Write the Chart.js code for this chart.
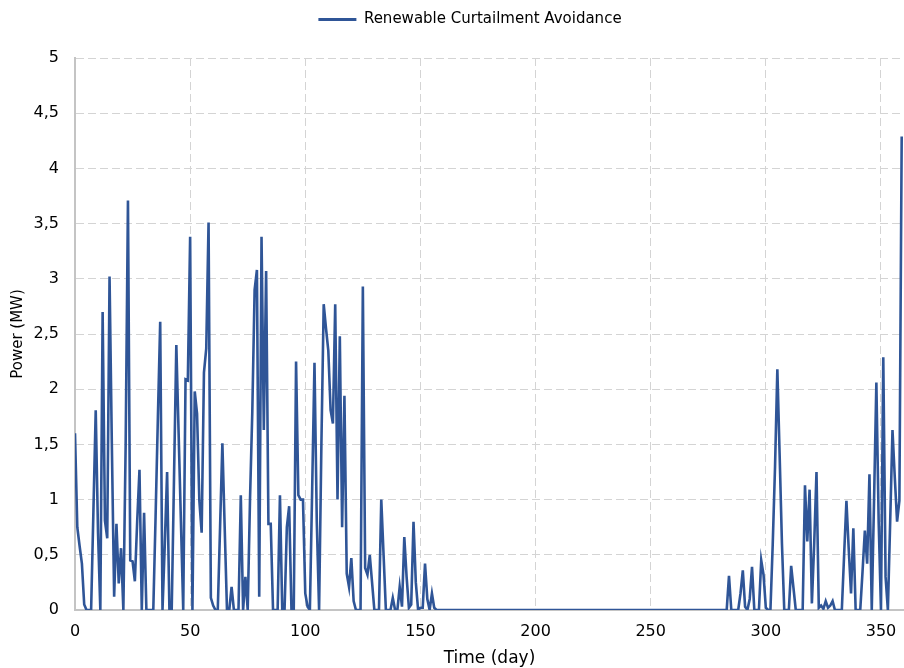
<!DOCTYPE html>
<html>
<head>
<meta charset="utf-8">
<title>Renewable Curtailment Avoidance</title>
<script src="https://cdn.jsdelivr.net/npm/chart.js@4.4.1/dist/chart.umd.min.js"></script>
<style>
  html, body { margin: 0; padding: 0; background: #fff; }
  #wrap { width: 904px; height: 668px; }
</style>
</head>
<body>
<div id="wrap"><canvas id="curtailment-chart" width="904" height="668"></canvas></div>
<script>
// daily avoided curtailment, day 0 .. 359 (MW)
const seriesLabel = 'Renewable Curtailment Avoidance';
const power = [
  1.60, 0.75, 0.58, 0.42, 0.05, 0, 0, 0, 0.90, 1.81, 0.70, 0, 2.70, 0.81, 0.65, 3.02, 1.50, 0.12, 0.78, 0.24,
  0.56, 0, 1.50, 3.71, 0.45, 0.44, 0.26, 0.80, 1.27, 0, 0.88, 0, 0, 0, 0, 0.85, 1.75, 2.61, 0, 0.60,
  1.25, 0, 0, 1.20, 2.40, 1.60, 0.80, 0, 2.09, 2.08, 3.38, 0, 1.98, 1.78, 0.99, 0.70, 2.15, 2.37, 3.51, 0.11,
  0.04, 0, 0, 0.75, 1.51, 0.75, 0, 0, 0.21, 0, 0, 0, 1.04, 0, 0.30, 0, 1.00, 1.80, 2.90, 3.08,
  0.12, 3.38, 1.63, 3.07, 0.78, 0.78, 0, 0, 0, 1.04, 0, 0, 0.75, 0.94, 0, 0, 2.25, 1.04, 1.00, 1.00,
  0.15, 0.03, 0, 1.10, 2.24, 0.80, 0, 1.50, 2.77, 2.55, 2.35, 1.81, 1.69, 2.77, 1.00, 2.48, 0.75, 1.94, 0.33, 0.21,
  0.47, 0.08, 0, 0, 0, 2.93, 0.38, 0.32, 0.50, 0.25, 0, 0, 0, 1.00, 0.50, 0, 0, 0, 0.11, 0,
  0, 0.21, 0.03, 0.66, 0.30, 0.02, 0.05, 0.80, 0.25, 0, 0.02, 0.02, 0.42, 0.10, 0, 0.15, 0.02, 0, 0, 0,
  0, 0, 0, 0, 0, 0, 0, 0, 0, 0, 0, 0, 0, 0, 0, 0, 0, 0, 0, 0,
  0, 0, 0, 0, 0, 0, 0, 0, 0, 0, 0, 0, 0, 0, 0, 0, 0, 0, 0, 0,
  0, 0, 0, 0, 0, 0, 0, 0, 0, 0, 0, 0, 0, 0, 0, 0, 0, 0, 0, 0,
  0, 0, 0, 0, 0, 0, 0, 0, 0, 0, 0, 0, 0, 0, 0, 0, 0, 0, 0, 0,
  0, 0, 0, 0, 0, 0, 0, 0, 0, 0, 0, 0, 0, 0, 0, 0, 0, 0, 0, 0,
  0, 0, 0, 0, 0, 0, 0, 0, 0, 0, 0, 0, 0, 0, 0, 0, 0, 0, 0, 0,
  0, 0, 0, 0, 0.31, 0, 0, 0, 0, 0.15, 0.36, 0.03, 0, 0.10, 0.39, 0, 0, 0, 0.45, 0.32,
  0.02, 0, 0, 0.60, 1.30, 2.18, 1.40, 0.60, 0, 0, 0, 0.40, 0.20, 0, 0, 0, 0, 1.13, 0.62, 1.09,
  0.06, 0.60, 1.25, 0.02, 0.04, 0.01, 0.08, 0.02, 0.04, 0.08, 0, 0, 0, 0, 0.50, 0.99, 0.55, 0.15, 0.74, 0,
  0, 0, 0.35, 0.72, 0.42, 1.23, 0, 1.00, 2.06, 0.80, 0, 2.29, 0.30, 0, 0.80, 1.63, 1.20, 0.80, 0.99, 4.29
];
const days = power.map((_, i) => i);
const xTicks = [0, 50, 100, 150, 200, 250, 300, 350];
const yTicks = [0, 0.5, 1, 1.5, 2, 2.5, 3, 3.5, 4, 4.5, 5];

const lineColor = '#2F5597';
const gridColor = '#D4D4D4';
const axisColor = '#C4C4C4';
const fontFamily = '"DejaVu Sans", sans-serif';

// legend sits higher and a bit right of the default spot, over the plot
const legendShift = {
  id: 'legendShift',
  afterLayout(chart) {
    const lg = chart.legend;
    if (!lg) return;
    lg.left += 36;
    lg.top -= 21;
    lg.bottom -= 21;
  }
};

new Chart(document.getElementById('curtailment-chart'), {
  type: 'line',
  data: {
    datasets: [{
      label: seriesLabel,
      data: days.map((d, i) => ({ x: d, y: power[i] })),
      borderColor: lineColor,
      backgroundColor: lineColor,
      borderWidth: 2.6,
      pointRadius: 0,
      tension: 0,
      fill: false
    }]
  },
  options: {
    responsive: false,
    animation: false,
    layout: { padding: { top: 23, right: 0, left: 0, bottom: 0 } },
    plugins: {
      legend: {
        position: 'top',
        labels: {
          boxWidth: 38,
          boxHeight: 3,
          padding: 10,
          color: '#000',
          font: { family: fontFamily, size: 15 },
          generateLabels: chart => chart.data.datasets.map((ds, i) => ({
            text: ds.label,
            fillStyle: ds.borderColor,
            strokeStyle: ds.borderColor,
            lineWidth: 0,
            hidden: false,
            datasetIndex: i
          }))
        }
      },
      tooltip: { enabled: false }
    },
    scales: {
      x: {
        type: 'linear',
        min: 0,
        max: 360,
        afterBuildTicks: scale => { scale.ticks = xTicks.map(v => ({ value: v })); },
        afterFit: scale => {
          scale.height = 58;
          scale.paddingRight = 0;
        },
        ticks: { color: '#000', padding: 12, font: { family: fontFamily, size: 16 } },
        grid: { color: gridColor, drawTicks: false },
        border: { color: axisColor, width: 2, dash: [8, 4] },
        title: {
          display: true,
          text: 'Time (day)',
          color: '#000',
          padding: { top: 0, bottom: 0 },
          font: { family: fontFamily, size: 17, lineHeight: 1.1 }
        }
      },
      y: {
        min: 0,
        max: 5,
        afterBuildTicks: scale => { scale.ticks = yTicks.map(v => ({ value: v })); },
        afterFit: scale => { scale.width = 75; },
        ticks: {
          color: '#000',
          padding: 16,
          font: { family: fontFamily, size: 16 },
          callback: value => String(value).replace('.', ',')
        },
        grid: { color: gridColor, drawTicks: false },
        border: { color: axisColor, width: 2, dash: [8, 4] },
        title: {
          display: true,
          text: 'Power (MW)',
          color: '#000',
          padding: { top: 9, bottom: 0 },
          font: { family: fontFamily, size: 15 }
        }
      }
    }
  },
  plugins: [legendShift]
});
</script>
</body>
</html>
